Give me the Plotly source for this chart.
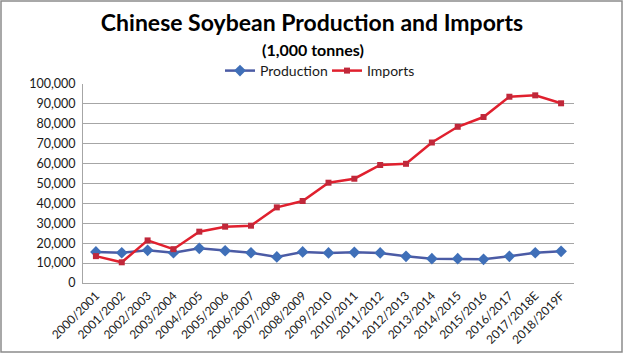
import plotly.graph_objects as go

categories = ["2000/2001", "2001/2002", "2002/2003", "2003/2004", "2004/2005", "2005/2006",
              "2006/2007", "2007/2008", "2008/2009", "2009/2010", "2010/2011", "2011/2012",
              "2012/2013", "2013/2014", "2014/2015", "2015/2016", "2016/2017", "2017/2018E",
              "2018/2019F"]
production = [15600, 15200, 16400, 15200, 17400, 16200, 15200, 13100, 15600, 15100,
              15400, 15100, 13400, 12200, 12200, 11900, 13400, 15200, 15900]
imports = [13500, 10400, 21400, 17000, 25800, 28300, 28800, 38000, 41200, 50400,
           52400, 59300, 59900, 70600, 78500, 83400, 93600, 94300, 90300]
y_ticks = [0, 10000, 20000, 30000, 40000, 50000, 60000, 70000, 80000, 90000, 100000]

FONT = "Lato, 'Open Sans', sans-serif"

fig = go.Figure()
fig.add_trace(go.Scatter(
    x=categories, y=production, name="Production", mode="lines+markers",
    line=dict(color="#4B5BA5", width=2.5),
    marker=dict(symbol="diamond", size=9, color="#3F6FB8"),
    legend="legend",
))
fig.add_trace(go.Scatter(
    x=categories, y=imports, name="Imports", mode="lines+markers",
    line=dict(color="#E0202E", width=2.5),
    marker=dict(symbol="square", size=6, color="#C0283A"),
    legend="legend2",
))

L, R, T, B = 83, 51, 84, 72
W, H = 625, 355
pw, ph = W - L - R, H - T - B

leg_common = dict(orientation="h", xanchor="left", y=(H - B - 71) / ph, yanchor="middle",
                  font=dict(family=FONT, size=14, color="#1A1A1A"),
                  itemwidth=30, bgcolor="rgba(0,0,0,0)")

fig.update_layout(
    width=W, height=H,
    margin=dict(l=L, r=R, t=T, b=B, autoexpand=False),
    paper_bgcolor="white", plot_bgcolor="white",
    font=dict(family=FONT, size=12, color="#1A1A1A"),
    title=dict(text="<b>Chinese Soybean Production and Imports</b>",
               x=(312 / W), xanchor="center", y=1 - 23 / H, yanchor="middle",
               font=dict(family=FONT, size=23, color="#000000")),
    showlegend=True,
    legend=dict(x=(220 - L) / pw, **leg_common),
    legend2=dict(x=(327 - L) / pw, **leg_common),
    xaxis=dict(type="category", tickangle=-45, tickfont=dict(family=FONT, size=12),
               showgrid=False, showline=True, linecolor="#A6A6A6", linewidth=1,
               ticks="", automargin=False, range=[-0.5, len(categories) - 0.5]),
    yaxis=dict(range=[0, 100000], tickvals=y_ticks, tickformat=",d",
               tickfont=dict(family=FONT, size=12.5), automargin=False,
               showgrid=True, gridcolor="#A6A6A6", gridwidth=1,
               showline=True, linecolor="#A6A6A6", linewidth=1,
               zeroline=False, ticks="", ticklabelstandoff=4),
)

fig.add_annotation(text="<b>(1,000 tonnes)</b>", xref="paper", yref="paper",
                   x=(313 - L) / pw, y=(H - B - 50) / ph, xanchor="center", yanchor="middle",
                   showarrow=False, font=dict(family=FONT, size=16, color="#000000"))

fig.add_shape(type="rect", xref="paper", yref="paper",
              x0=(1 - L) / pw, x1=(622 - L) / pw,
              y0=(H - B - 352) / ph, y1=(H - B - 1) / ph,
              line=dict(color="#8C8C8C", width=1.5), fillcolor="rgba(0,0,0,0)", layer="below")

fig.write_html("out.html", config={"displayModeBar": False},
               post_script="document.body.style.margin='0';document.body.style.overflow='hidden';")
